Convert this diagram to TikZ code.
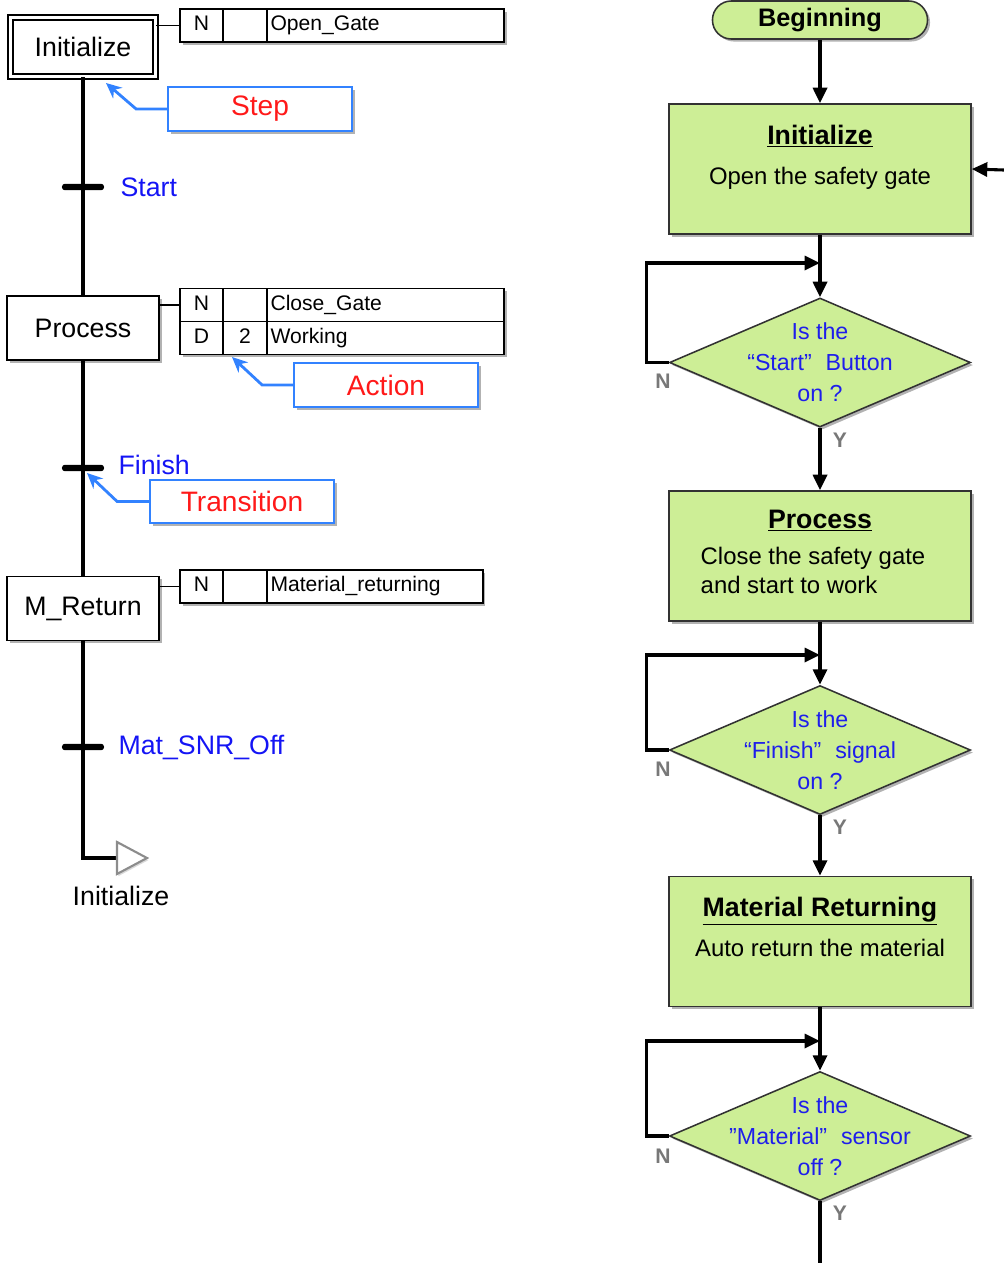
\documentclass[tikz,border=0pt]{standalone}
\usepackage{fontspec}
\setmainfont{Liberation Sans}
\usetikzlibrary{arrows.meta,positioning,shapes.geometric,shadows}
\definecolor{boxgreen}{RGB}{205,238,150}
\definecolor{qblue}{RGB}{30,30,235}
\definecolor{tblue}{RGB}{20,20,245}
\definecolor{noteblue}{RGB}{50,130,255}
\definecolor{notered}{RGB}{255,25,25}
\definecolor{yngray}{RGB}{120,120,120}
\definecolor{edgegray}{RGB}{50,50,50}
\definecolor{jumpgray}{RGB}{140,140,140}
\newcommand{\boxtitle}[1]{{\fontsize{19}{22}\selectfont\bfseries\underline{#1}}}
\tikzset{
  softshadow/.style={drop shadow={shadow xshift=1.8pt,shadow yshift=-1.8pt,opacity=0.3,fill=black}},
  stepbox/.style={draw,line width=1.3pt,fill=white,minimum width=3.8cm,minimum height=1.6cm,
    font=\fontsize{19}{22}\selectfont,softshadow},
  initstepbox/.style={stepbox,double,double distance=2.6pt,line width=1.2pt,
    minimum width=3.625cm,minimum height=1.475cm},
  acell/.style={draw,line width=1.2pt,fill=white,minimum height=0.825cm,inner sep=0pt,outer sep=0pt,
    text height=11pt,text depth=3.5pt,font=\fontsize{15}{18}\selectfont,softshadow},
  namecell/.style={acell,align=left,inner xsep=2.5pt,text width=#1},
  tbar/.style={fill=black,rounded corners=2pt,minimum width=1.05cm,minimum height=0.16cm,inner sep=0pt},
  tlabel/.style={text=tblue,font=\fontsize{19}{22}\selectfont,inner sep=0pt},
  note/.style={draw=noteblue,line width=1.2pt,fill=white,text=notered,minimum width=4.6cm,
    minimum height=1.1cm,font=\fontsize{20}{24}\selectfont,softshadow},
  notearrow/.style={noteblue,line width=2pt,-{Stealth[length=11pt,width=10pt]}},
  sfcline/.style={line width=2.2pt},
  terminal/.style={draw=edgegray,line width=1.1pt,fill=boxgreen,rounded corners=0.47cm,
    minimum width=5.375cm,minimum height=0.95cm,font=\bfseries\fontsize{18}{21}\selectfont,softshadow},
  procbox/.style={draw=edgegray,line width=1.1pt,fill=boxgreen,minimum width=7.55cm,minimum height=3.25cm,
    align=center,font=\fontsize{17}{20.5}\selectfont,softshadow},
  decision/.style={diamond,draw=edgegray,line width=1.1pt,fill=boxgreen,minimum width=7.525cm,
    minimum height=3.225cm,inner sep=0pt,softshadow},
  qtext/.style={text=qblue,align=center,font=\fontsize{16.5}{22}\selectfont},
  flow/.style={line width=2.2pt,-{Triangle[length=11pt,width=10pt]}},
  yn/.style={text=yngray,font=\bfseries\fontsize{15}{18}\selectfont}
}
\begin{document}
\begin{tikzpicture}[x=0.025cm,y=-0.025cm]
  \useasboundingbox (0,0) rectangle (1004,1263);
  % SFC steps and actions
  \node[initstepbox] (initstep) at (83,47) {Initialize};
  \node[acell,minimum width=1.075cm] (a1q) at (201.5,25.5) {N};
  \node[acell,minimum width=1.1cm,right=0pt of a1q] (a1t) {};
  \node[namecell=5.75cm,right=0pt of a1t] (a1n) {Open\_Gate};

  \node[stepbox] (procstep) at (83,328) {Process};
  \node[acell,minimum width=1.075cm] (b1q) at (201.5,305) {N};
  \node[acell,minimum width=1.1cm,right=0pt of b1q] (b1t) {};
  \node[namecell=5.75cm,right=0pt of b1t] (b1n) {Close\_Gate};
  \node[acell,minimum width=1.075cm,below=0pt of b1q] (b2q) {D};
  \node[acell,minimum width=1.1cm,right=0pt of b2q] (b2t) {2};
  \node[namecell=5.75cm,right=0pt of b2t] (b2n) {Working};

  \node[stepbox] (mstep) at (83,608.5) {M\_Return};
  \node[acell,minimum width=1.075cm] (c1q) at (201.5,586.5) {N};
  \node[acell,minimum width=1.1cm,right=0pt of c1q] (c1t) {};
  \node[namecell=5.22cm,right=0pt of c1t] (c1n) {Material\_returning};

  % transitions
  \node[tbar] (t1) at (83,187) {};
  \node[tbar] (t2) at (83,468) {};
  \node[tbar] (t3) at (83,747) {};
  \node[tlabel,right=0.4cm of t1] (t1lab) {Start};
  \node[tlabel,right=0.35cm of t2,yshift=2pt] (t2lab) {Finish};
  \node[tlabel,right=0.35cm of t3] (t3lab) {Mat\_SNR\_Off};

  \coordinate (jmp) at (117,858);
  \draw[sfcline] (initstep) -- (procstep);
  \draw[sfcline] (procstep) -- (mstep);
  \draw[sfcline] (mstep.south) |- (jmp);
  \draw[line width=1.5pt,draw=jumpgray,fill=white,drop shadow={shadow xshift=1pt,shadow yshift=-1.5pt,opacity=0.3}]
    (jmp) -- (117,842) -- (147,858) -- (117,874) -- cycle;
  \node[font=\fontsize{19}{22}\selectfont] (jmplab) at (121,896) {Initialize};

  \draw[line width=1.4pt] (a1q.west -| initstep.east) -- (a1q.west);
  \draw[line width=1.4pt] (b1q.west -| procstep.east) -- (b1q.west);
  \draw[line width=1.4pt] (c1q.west -| mstep.east) -- (c1q.west);

  % callouts
  \node[note] (stepnote) at (260,109) {Step};
  \node[note] (actnote) at (386,385) {Action};
  \node[note,minimum height=1.075cm] (transnote) at (242,501.5) {Transition};
  \coordinate (steptip) at (106,83);
  \coordinate (acttip) at (232,357);
  \coordinate (transtip) at (87,473);
  \draw[notearrow] (stepnote.west) -- ++(-31,0) -- (steptip);
  \draw[notearrow] (actnote.west) -- ++(-31,0) -- (acttip);
  \draw[notearrow] (transnote.west) -- ++(-32,0) -- (transtip);

  % flowchart
  \node[terminal] (begin) at (820,20) {Beginning};
  \node[procbox] (initbox) at (820,169) {\boxtitle{Initialize}\\[8pt]Open the safety gate\\\mbox{}};
  \node[decision] (d1) at (820,362.5) {};
  \node[qtext] (d1txt) at (d1) {Is the\\“Start”\hspace{0.6em}Button\\on ?};
  \node[procbox] (procbox) at (820,556) {\boxtitle{Process}\\[8pt]%
    \begin{tabular}{@{}l@{}}Close the safety gate\\and start to work\end{tabular}\hspace*{0.35cm}};
  \node[decision] (d2) at (820,750) {};
  \node[qtext] (d2txt) at (d2) {Is the\\“Finish”\hspace{0.6em}signal\\on ?};
  \node[procbox] (matbox) at (820,941.5) {\boxtitle{Material Returning}\\[8pt]Auto return the material\\\mbox{}};
  \node[decision] (d3) at (820,1136) {};
  \node[qtext] (d3txt) at (d3) {Is the\\”Material”\hspace{0.6em}sensor\\off ?};

  \node[yn] (d1n) at (663,381) {N};
  \node[yn] (d1y) at (840,440) {Y};
  \node[yn] (d2n) at (663,769) {N};
  \node[yn] (d2y) at (840,827) {Y};
  \node[yn] (d3n) at (663,1156) {N};
  \node[yn] (d3y) at (840,1213) {Y};

  \coordinate (j1) at (820,263);
  \coordinate (j2) at (820,655);
  \coordinate (j3) at (820,1041);
  \coordinate (backin) at (1004,170);
  \coordinate (endpt) at (820,1263);
  \draw[flow] (begin) -- (initbox);
  \draw[flow] (backin) -- (initbox.east);
  \draw[flow] (initbox) -- (d1);
  \draw[flow] (d1.west) -- ++(-22,0) |- (j1);
  \draw[flow] (d1) -- (procbox);
  \draw[flow] (procbox) -- (d2);
  \draw[flow] (d2.west) -- ++(-22,0) |- (j2);
  \draw[flow] (d2) -- (matbox);
  \draw[flow] (matbox) -- (d3);
  \draw[flow] (d3.west) -- ++(-22,0) |- (j3);
  \draw[line width=2.2pt] (d3) -- (endpt);
\end{tikzpicture}
\end{document}
